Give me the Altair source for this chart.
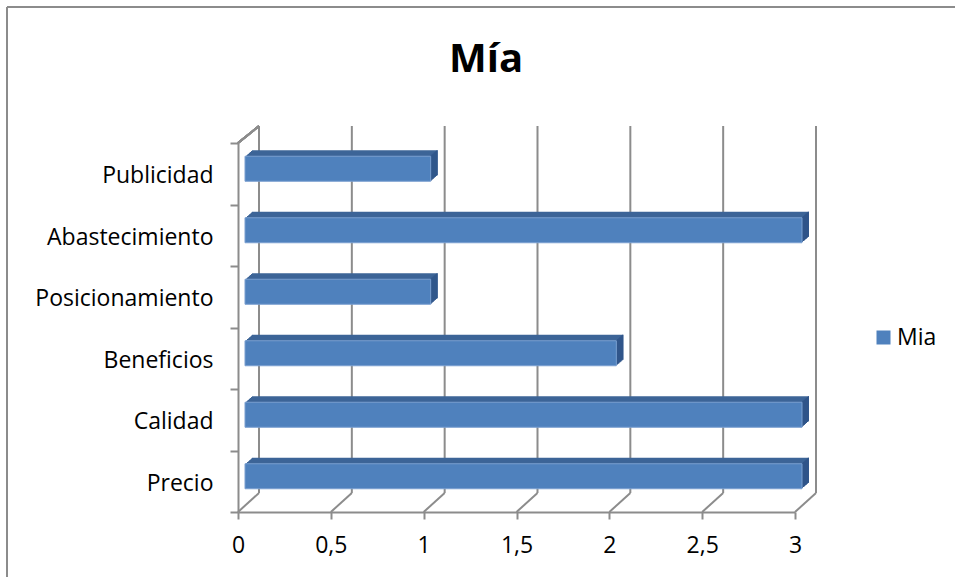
import altair as alt
import pandas as pd

# Chart values
categorias = ["Precio", "Calidad", "Beneficios", "Posicionamiento", "Abastecimiento", "Publicidad"]
valores = [3, 3, 2, 1, 3, 1]
serie = "Mia"
titulo = "Mía"
marcas_x = [0, 0.5, 1, 1.5, 2, 2.5, 3]

orden_y = list(reversed(categorias))

W, H = 557, 369
FONT = "Open Sans"
GRID = "#8C8C8C"
FRONT = "#4F81BD"
TOP = "#3D6597"
SIDE = "#30558A"
DEPTH = 7          # pixel depth of the 3D bars
BAR_H = 25         # bar thickness
BAR_DX, BAR_DY = 7, -5   # bars sit a little behind the front plane

df = pd.DataFrame({"categoria": categorias, "valor": valores, "serie": [serie] * len(categorias)})
ticks = pd.DataFrame({"t": marcas_x})
tdf = pd.DataFrame({"titulo": [titulo]})

xscale = alt.Scale(domain=[0, 3], nice=False, zero=True)
yscale = alt.Scale(domain=orden_y, paddingInner=0, paddingOuter=0)

x_axis = alt.Axis(
    values=marcas_x,
    labelExpr="replace(format(datum.value, '~g'), '.', ',')",
    grid=False, domainColor=GRID, domainWidth=2, tickColor=GRID, tickWidth=2,
    tickSize=7, labelFontSize=23, labelFont=FONT, labelColor="black",
    labelPadding=15, labelFlush=False, title=None,
)
y_axis = alt.Axis(
    tickBand="extent", grid=False, domainColor=GRID, domainWidth=2,
    tickColor=GRID, tickWidth=2, tickSize=8, labelFontSize=23, labelFont=FONT,
    labelColor="black", labelPadding=17, labelOffset=2, title=None,
)

# outer frame of the chart (top and left edges)
marco_top = alt.Chart(ticks).mark_rule(color=GRID, strokeWidth=2).encode(
    x=alt.value(-231), x2=alt.value(717), y=alt.value(-136)
)
marco_left = alt.Chart(ticks).mark_rule(color=GRID, strokeWidth=2).encode(
    x=alt.value(-231), y=alt.value(-136), y2=alt.value(434)
)

# chart title
texto_titulo = alt.Chart(tdf).mark_text(
    font=FONT, fontSize=40, fontWeight="bold", color="black",
    align="center", baseline="alphabetic",
).encode(text="titulo:N", x=alt.value(248), y=alt.value(-71))

# back wall gridlines
pared = alt.Chart(ticks).mark_rule(
    color=GRID, strokeWidth=2, xOffset=21, yOffset=-17, y2Offset=-19
).encode(
    x=alt.X("t:Q", scale=xscale, axis=x_axis),
    y=alt.value(0), y2=alt.value(H),
)

# floor lines joining front axis to back wall
suelo = alt.Chart(ticks).mark_rule(
    color=GRID, strokeWidth=2, x2Offset=21, y2Offset=-19
).encode(
    x=alt.X("t:Q", scale=xscale), x2="t:Q",
    y=alt.value(H), y2=alt.value(H),
)

# left wall top edge
pared_izq = alt.Chart(ticks).mark_rule(
    color=GRID, strokeWidth=2, x2Offset=21, y2Offset=-17
).encode(
    x=alt.value(0), x2=alt.value(0), y=alt.value(0), y2=alt.value(0)
)

capas = [marco_top, marco_left, texto_titulo, pared, suelo, pared_izq]

# top faces of the bars: stacked copies shifted along the depth direction
for k in range(DEPTH, 0, -1):
    dy = BAR_DY - k * 6.0 / DEPTH
    capas.append(
        alt.Chart(df).mark_bar(
            color=TOP, size=BAR_H,
            xOffset=BAR_DX + k, x2Offset=BAR_DX + k, yOffset=dy, y2Offset=dy
        ).encode(
            x=alt.X("valor:Q", scale=xscale),
            y=alt.Y("categoria:N", scale=yscale, sort=orden_y, axis=y_axis),
        )
    )

# right side faces of the bars
for k in range(1, DEPTH + 1):
    dy = BAR_DY - k * 6.0 / DEPTH
    capas.append(
        alt.Chart(df).mark_bar(
            color=SIDE, size=BAR_H,
            xOffset=BAR_DX + k - 1.2, x2Offset=BAR_DX + k, yOffset=dy, y2Offset=dy
        ).encode(
            x=alt.X("valor:Q", scale=xscale), x2="valor:Q",
            y=alt.Y("categoria:N", scale=yscale, sort=orden_y),
        )
    )

# front faces
frente = alt.Chart(df).mark_bar(
    size=BAR_H,
    xOffset=BAR_DX, x2Offset=BAR_DX, yOffset=BAR_DY, y2Offset=BAR_DY,
    stroke="#7A9FD0", strokeWidth=1,
).encode(
    x=alt.X("valor:Q", scale=xscale),
    y=alt.Y("categoria:N", scale=yscale, sort=orden_y),
    color=alt.Color(
        "serie:N",
        scale=alt.Scale(domain=[serie], range=[FRONT]),
        legend=alt.Legend(
            title=None, orient="none", legendX=634, legendY=183,
            symbolType="square", symbolSize=196, symbolStrokeWidth=0,
            labelFontSize=23, labelFont=FONT, labelColor="black", labelOffset=2,
        ),
    ),
)
capas.append(frente)

chart = alt.layer(*capas).properties(
    width=W, height=H,
    autosize=alt.AutoSizeParams(type="none"),
    padding={"left": 238, "top": 143, "right": 160, "bottom": 65},
).configure(background="white").configure_view(strokeWidth=0)

chart.save("out.html", embed_options={"renderer": "svg", "actions": False})
